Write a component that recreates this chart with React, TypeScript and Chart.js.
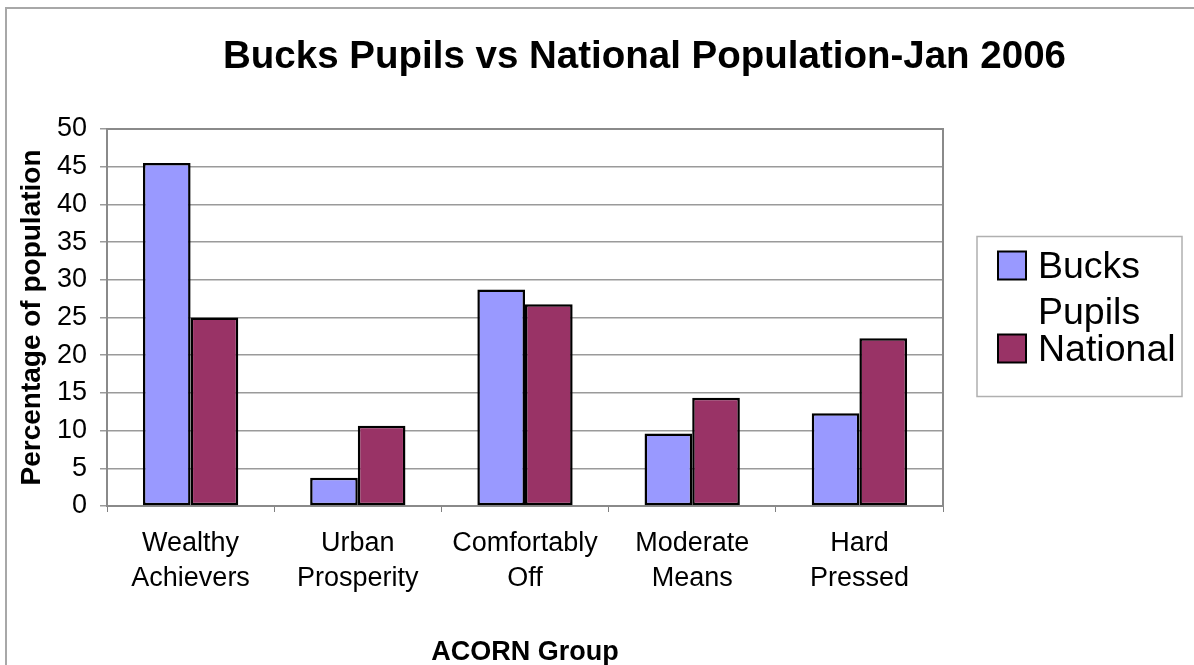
import { useEffect, useRef } from 'react';
import { Chart, registerables } from 'chart.js';

Chart.register(...registerables);

const categories: string[][] = [
  ['Wealthy', 'Achievers'],
  ['Urban', 'Prosperity'],
  ['Comfortably', 'Off'],
  ['Moderate', 'Means'],
  ['Hard', 'Pressed'],
];
const bucksPupils = [45.5, 3.75, 28.7, 9.6, 12.3];
const national = [25.0, 10.65, 26.75, 14.35, 22.25];
const seriesNames = ['Bucks Pupils', 'National'];
const seriesColors = ['#9999FF', '#993366'];
const chartTitle = 'Bucks Pupils vs National Population-Jan 2006';
const yAxisTitle = 'Percentage of population';
const xAxisTitle = 'ACORN Group';
const yMin = 0;
const yMax = 50;
const yStep = 5;

const FONT = "'Liberation Sans', Arial, Helvetica, sans-serif";

function wrapText(ctx: CanvasRenderingContext2D, text: string, maxWidth: number): string[] {
  const words = text.split(' ');
  const lines: string[] = [];
  let cur = '';
  for (const w of words) {
    const test = cur ? cur + ' ' + w : w;
    if (cur && ctx.measureText(test).width > maxWidth) {
      lines.push(cur);
      cur = w;
    } else {
      cur = test;
    }
  }
  if (cur) lines.push(cur);
  return lines;
}

const decor = {
  id: 'decor',
  beforeDatasetsDraw(chart: any) {
    const { ctx, chartArea: a } = chart;
    ctx.save();
    ctx.strokeStyle = '#8a8a8a';
    ctx.lineWidth = 2;
    ctx.strokeRect(a.left, a.top, a.right - a.left, a.bottom - a.top);
    ctx.restore();
  },
  afterDraw(chart: any) {
    const { ctx, chartArea: a, width, height } = chart;
    ctx.save();
    // outer frame
    ctx.strokeStyle = '#a8a8a8';
    ctx.lineWidth = 2;
    ctx.beginPath();
    ctx.moveTo(6, height);
    ctx.lineTo(6, 8);
    ctx.lineTo(width, 8);
    ctx.stroke();

    // legend box
    const boxL = a.right + 34;
    const boxR = width - 12;
    const boxH = 160;
    const boxT = (a.top + a.bottom) / 2 - boxH / 2 - 1;
    ctx.strokeStyle = '#b0b0b0';
    ctx.lineWidth = 1.5;
    ctx.strokeRect(boxL, boxT, boxR - boxL, boxH);

    // title
    ctx.fillStyle = '#000';
    ctx.font = `bold 38.5px ${FONT}`;
    ctx.textAlign = 'center';
    ctx.textBaseline = 'alphabetic';
    ctx.fillText(chartTitle, (a.left + boxR) / 2, 68);

    // legend items
    ctx.font = `37.5px ${FONT}`;
    ctx.textAlign = 'left';
    const textX = boxL + 61;
    const sqX = boxL + 21;
    const sq = 28;
    let baseline = boxT + 41;
    seriesNames.forEach((name, i) => {
      const lines = wrapText(ctx, name, boxR - textX - 1);
      ctx.fillStyle = seriesColors[i];
      ctx.fillRect(sqX, baseline - 26, sq, sq);
      ctx.strokeStyle = '#000';
      ctx.lineWidth = 2;
      ctx.strokeRect(sqX, baseline - 26, sq, sq);
      ctx.fillStyle = '#000';
      lines.forEach((ln, j) => {
        ctx.fillText(ln, textX, baseline + j * 46);
      });
      baseline += (lines.length - 1) * 46 + 37;
    });
    ctx.restore();
  },
};

export default function App() {
  const ref = useRef<HTMLCanvasElement>(null);
  useEffect(() => {
    const canvas = ref.current!;
    const chart = new Chart(canvas, {
      type: 'bar',
      data: {
        labels: categories as any,
        datasets: [
          {
            label: seriesNames[0],
            data: bucksPupils,
            backgroundColor: seriesColors[0],
            borderColor: '#000',
            borderWidth: 2.5,
            borderSkipped: false,
          },
          {
            label: seriesNames[1],
            data: national,
            backgroundColor: seriesColors[1],
            borderColor: '#000',
            borderWidth: 2.5,
            borderSkipped: false,
          },
        ],
      },
      options: {
        animation: false,
        responsive: true,
        maintainAspectRatio: false,
        devicePixelRatio: 1,
        layout: { padding: { top: 129, right: 251, bottom: 0, left: 0 } },
        datasets: { bar: { categoryPercentage: 0.57, barPercentage: 1 } },
        plugins: {
          legend: { display: false },
          title: { display: false },
          tooltip: { enabled: false },
        },
        scales: {
          x: {
            afterFit: (s: any) => { s.height = 159; },
            grid: {
              offset: true,
              drawOnChartArea: false,
              drawTicks: true,
              tickLength: 6,
              color: '#808080',
              lineWidth: 1,
            },
            border: { display: true, color: '#808080', width: 2 },
            ticks: {
              color: '#000',
              font: { family: FONT, size: 27, lineHeight: 1.3 },
              padding: 14,
              maxRotation: 0,
              autoSkip: false,
            },
            title: {
              display: true,
              text: xAxisTitle,
              color: '#000',
              font: { family: FONT, size: 27, weight: 'bold', lineHeight: 0.9 },
              padding: { top: 1, bottom: 0 },
            },
          },
          y: {
            min: yMin,
            max: yMax,
            afterFit: (s: any) => { s.width = 107; },
            grid: {
              color: '#9a9a9a',
              lineWidth: 1.5,
              drawTicks: true,
              tickLength: 7,
            },
            border: { display: true, color: '#808080', width: 2 },
            ticks: {
              stepSize: yStep,
              color: '#000',
              font: { family: FONT, size: 27 },
              padding: 13,
            },
            title: {
              display: true,
              text: yAxisTitle,
              color: '#000',
              font: { family: FONT, size: 28, weight: 'bold', lineHeight: 1.2 },
              padding: { top: 15, bottom: 0 },
            },
          },
        },
      },
      plugins: [decor],
    });
    return () => chart.destroy();
  }, []);
  return (
    <div style={{ position: 'absolute', left: 0, top: 0, width: 1194, height: 665, background: '#fff' }}>
      <canvas ref={ref} />
    </div>
  );
}
